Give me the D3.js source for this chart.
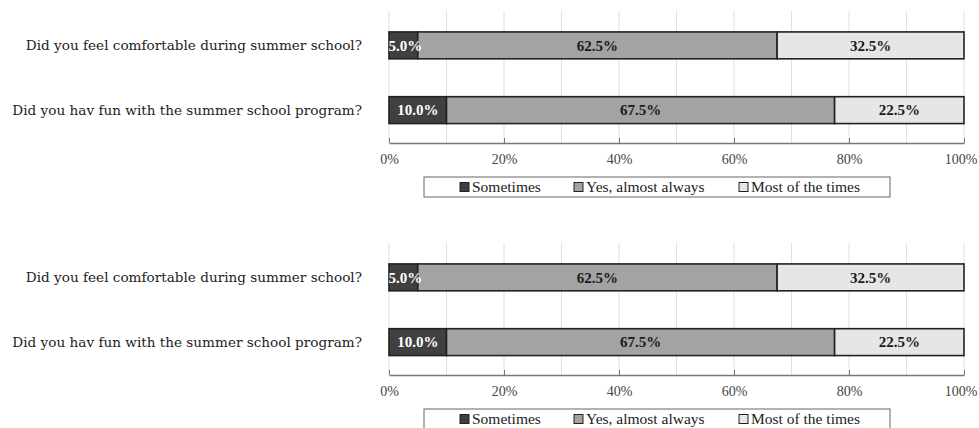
<!DOCTYPE html>
<html>
<head>
<meta charset="utf-8">
<script src="https://cdn.jsdelivr.net/npm/d3@7"></script>
<style>
  html, body { margin: 0; padding: 0; background: #fff; }
  svg { display: block; }
</style>
</head>
<body>
<svg id="chart" width="979" height="428"></svg>
<script>
// ---- data ----
const categories = [
  "Did you feel comfortable during summer school?",
  "Did you hav fun with the summer school program?"
];
const seriesNames = ["Sometimes", "Yes, almost always", "Most of the times"];
const sometimes = [5.0, 10.0];
const yesAlmostAlways = [62.5, 67.5];
const mostOfTheTimes = [32.5, 22.5];
const tickValues = [0, 20, 40, 60, 80, 100];
const tickLabels = ["0%", "20%", "40%", "60%", "80%", "100%"];
const gridValues = [0, 10, 20, 30, 40, 50, 60, 70, 80, 90, 100];

// ---- styles ----
const colors = ["#404040", "#a3a3a3", "#e6e6e6"];
const labelColors = ["#ffffff", "#1a1a1a", "#1a1a1a"];
const serif = "'Liberation Serif', 'Times New Roman', serif";

const svg = d3.select("#chart");
const seriesValues = [sometimes, yesAlmostAlways, mostOfTheTimes];

const rows = categories.map((c, i) => {
  const o = { category: c };
  seriesNames.forEach((s, j) => o[s] = seriesValues[j][i]);
  return o;
});
const stacked = d3.stack().keys(seriesNames)(rows);

const x = d3.scaleLinear().domain([0, 100]).range([389, 964]);

function drawPanel(offsetY) {
  const g = svg.append("g").attr("transform", `translate(0,${offsetY})`);
  const plotTop = 11, plotBottom = 143;
  const y = d3.scaleBand().domain(categories).range([12.5, 143])
    .paddingInner(0.585).paddingOuter(0.3);

  // gridlines
  g.append("g").selectAll("line").data(gridValues).join("line")
    .attr("x1", d => x(d)).attr("x2", d => x(d))
    .attr("y1", plotTop).attr("y2", plotBottom)
    .attr("stroke", "#e0e0e0").attr("stroke-width", 1);

  // bars
  const layers = g.append("g").selectAll("g").data(stacked).join("g")
    .attr("fill", (d, i) => colors[i]);
  layers.selectAll("rect").data(d => d).join("rect")
    .attr("x", d => x(d[0]))
    .attr("width", d => x(d[1]) - x(d[0]))
    .attr("y", d => y(d.data.category))
    .attr("height", y.bandwidth())
    .attr("stroke", "#222").attr("stroke-width", 1.6);

  // value labels
  stacked.forEach((layer, i) => {
    g.append("g").selectAll("text").data(layer).join("text")
      .attr("x", d => (x(d[0]) + x(d[1])) / 2 + (i === 0 && (d[1] - d[0]) < 8 ? 2 : 0))
      .attr("y", d => y(d.data.category) + y.bandwidth() / 2)
      .attr("dy", "0.35em")
      .attr("text-anchor", "middle")
      .attr("font-family", serif).attr("font-weight", "bold")
      .attr("font-size", 15)
      .attr("fill", labelColors[i])
      .text(d => (d[1] - d[0]).toFixed(1) + "%");
  });

  // category labels
  g.append("g").selectAll("text").data(categories).join("text")
    .attr("x", 362)
    .attr("y", d => y(d) + y.bandwidth() / 2)
    .attr("dy", "0.35em")
    .attr("text-anchor", "end")
    .attr("font-family", "'DejaVu Serif', serif")
    .attr("font-size", 13.6)
    .attr("fill", "#222")
    .text(d => d);

  // x axis
  const axis = d3.axisBottom(x).tickValues(tickValues)
    .tickFormat((d, i) => tickLabels[i]).tickSizeInner(-5).tickSizeOuter(0).tickPadding(11);
  const ax = g.append("g").attr("transform", `translate(0,${plotBottom})`).call(axis);
  ax.select(".domain").attr("stroke", "#777").attr("stroke-width", 1.5);
  ax.selectAll(".tick line").attr("stroke", "#777");
  ax.selectAll(".tick text")
    .attr("font-family", serif).attr("font-size", 14).attr("fill", "#444");
  // keep the last label inside the picture
  ax.selectAll(".tick text").filter(d => d === 100)
    .attr("text-anchor", "end").attr("x", 977 - x(100) + 0);

  // legend
  const lg = g.append("g");
  lg.append("rect").attr("x", 424).attr("y", 177).attr("width", 466).attr("height", 20)
    .attr("fill", "#fff").attr("stroke", "#666").attr("stroke-width", 1);
  const legendX = [460, 574, 739];
  seriesNames.forEach((s, i) => {
    lg.append("rect").attr("x", legendX[i]).attr("y", 182.5).attr("width", 9).attr("height", 9)
      .attr("fill", colors[i]).attr("stroke", "#222").attr("stroke-width", 1);
    lg.append("text").attr("x", legendX[i] + 12).attr("y", 187).attr("dy", "0.35em")
      .attr("font-family", serif).attr("font-size", 15.5).attr("fill", "#222")
      .text(s);
  });
}

drawPanel(0);
drawPanel(232);
</script>
</body>
</html>
